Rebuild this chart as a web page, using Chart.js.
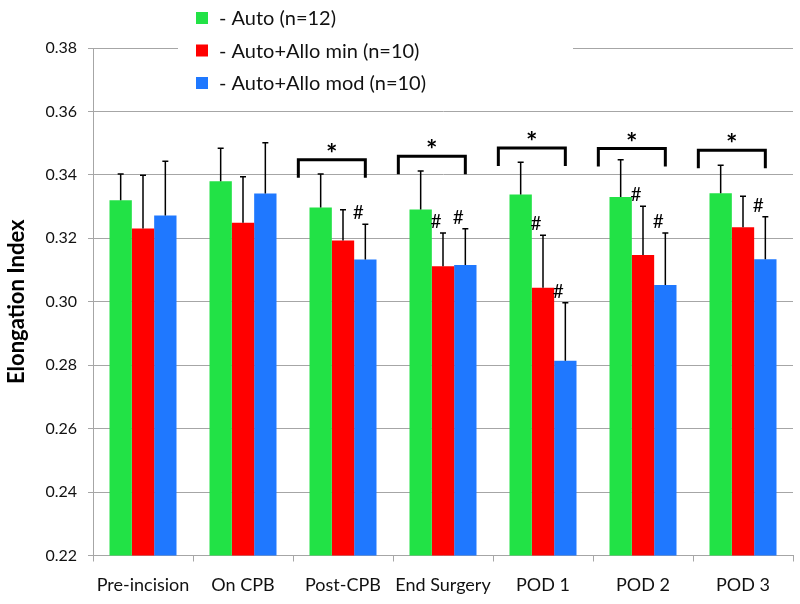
<!DOCTYPE html>
<html>
<head>
<meta charset="utf-8">
<script src="https://cdn.jsdelivr.net/npm/chart.js@4/dist/chart.umd.min.js"></script>
<style>
  html, body { margin: 0; padding: 0; background: #ffffff; }
  #wrap { width: 800px; height: 604px; }
</style>
</head>
<body>
<div id="wrap"><canvas id="c" width="800" height="604"></canvas></div>
<script>
// ---- Data ----
const categories = ['Pre-incision', 'On CPB', 'Post-CPB', 'End Surgery', 'POD 1', 'POD 2', 'POD 3'];
const seriesLabels = ['Auto (n=12)', 'Auto+Allo min (n=10)', 'Auto+Allo mod (n=10)'];
const autoMean    = [0.3320, 0.3380, 0.3297, 0.3291, 0.3338, 0.3330, 0.3342];
const autoSD      = [0.0083, 0.0104, 0.0106, 0.0121, 0.0102, 0.0118, 0.0088];
const alloMinMean = [0.3231, 0.3249, 0.3193, 0.3112, 0.3044, 0.3147, 0.3235];
const alloMinSD   = [0.0168, 0.0145, 0.0097, 0.0105, 0.0166, 0.0154, 0.0098];
const alloModMean = [0.3272, 0.3341, 0.3133, 0.3116, 0.2814, 0.3053, 0.3134];
const alloModSD   = [0.0171, 0.0160, 0.0111, 0.0114, 0.0183, 0.0164, 0.0134];
// Significance markers
const bracketTop  = [null, null, 0.3448, 0.3459, 0.3485, 0.3483, 0.3478]; // "*" brackets (Auto vs Auto+Allo)
const hashMin     = [false, false, false, true, true, true, false];        // "#" over Auto+Allo min
const hashMod     = [false, false, true, true, true, true, true];          // "#" over Auto+Allo mod
const yTicks      = [0.22, 0.24, 0.26, 0.28, 0.30, 0.32, 0.34, 0.36, 0.38];

const colors = ['#22e246', '#ff0000', '#1f78ff'];
const sds = [autoSD, alloMinSD, alloModSD];
const FONT = 'Lato, "Open Sans", sans-serif';
const GRID = '#a6a6a6';

function drawGlyphCentered(ctx, text, x, cy) {
  const m = ctx.measureText(text);
  const asc = m.actualBoundingBoxAscent, desc = m.actualBoundingBoxDescent;
  ctx.textAlign = 'center';
  ctx.textBaseline = 'alphabetic';
  ctx.fillText(text, x, cy + (asc - desc) / 2);
}

const errorBarPlugin = {
  id: 'errorBars',
  afterDatasetsDraw(chart) {
    const ctx = chart.ctx, y = chart.scales.y;
    ctx.save();
    ctx.strokeStyle = '#000';
    ctx.lineWidth = 1.5;
    chart.data.datasets.forEach((ds, di) => {
      const meta = chart.getDatasetMeta(di);
      meta.data.forEach((el, i) => {
        const top = y.getPixelForValue(ds.data[i] + sds[di][i]);
        ctx.beginPath();
        ctx.moveTo(el.x, el.y);
        ctx.lineTo(el.x, top);
        ctx.moveTo(el.x - 3, top);
        ctx.lineTo(el.x + 3, top);
        ctx.stroke();
      });
    });
    // significance brackets and stars
    const m0 = chart.getDatasetMeta(0), m2 = chart.getDatasetMeta(2), m1 = chart.getDatasetMeta(1);
    ctx.lineWidth = 3;
    ctx.fillStyle = '#000';
    bracketTop.forEach((v, i) => {
      if (v === null) return;
      const g = m0.data[i], b = m2.data[i];
      const left = g.x - g.width, right = b.x;
      const py = y.getPixelForValue(v);
      ctx.beginPath();
      ctx.moveTo(left, py + 18);
      ctx.lineTo(left, py);
      ctx.lineTo(right, py);
      ctx.lineTo(right, py + 18);
      ctx.stroke();
      ctx.font = 'bold 27px ' + FONT;
      drawGlyphCentered(ctx, '*', (left + right) / 2, py - 12);
    });
    ctx.font = '19px ' + FONT;
    const hashSets = [[hashMin, m1, 1], [hashMod, m2, 2]];
    hashSets.forEach(([flags, meta, di]) => {
      flags.forEach((f, i) => {
        if (!f) return;
        const el = meta.data[i];
        const top = y.getPixelForValue(chart.data.datasets[di].data[i] + sds[di][i]);
        drawGlyphCentered(ctx, '#', el.x - 7, top - 12);
      });
    });
    ctx.restore();
  }
};

const legendPlugin = {
  id: 'customLegend',
  afterDraw(chart) {
    const ctx = chart.ctx;
    ctx.save();
    ctx.fillStyle = '#fff';
    ctx.fillRect(178, 0, 395, 100);
    ctx.font = '20px ' + FONT;
    chart.data.datasets.forEach((ds, i) => {
      const cy = 18 + i * 32.5;
      ctx.fillStyle = ds.backgroundColor;
      ctx.fillRect(196, cy - 6, 12, 12);
      ctx.fillStyle = '#111';
      ctx.textAlign = 'left';
      ctx.textBaseline = 'middle';
      ctx.fillText('- ' + ds.label, 219, cy + 1);
    });
    ctx.restore();
  }
};

new Chart(document.getElementById('c'), {
  type: 'bar',
  data: {
    labels: categories,
    datasets: [
      { label: seriesLabels[0], data: autoMean, backgroundColor: colors[0] },
      { label: seriesLabels[1], data: alloMinMean, backgroundColor: colors[1] },
      { label: seriesLabels[2], data: alloModMean, backgroundColor: colors[2] }
    ]
  },
  options: {
    responsive: false,
    animation: false,
    devicePixelRatio: 1,
    layout: { padding: { top: 48, right: 7, left: 0, bottom: 0 } },
    datasets: { bar: { categoryPercentage: 0.67, barPercentage: 1.0, borderWidth: 0 } },
    plugins: { legend: { display: false }, tooltip: { enabled: false } },
    scales: {
      x: {
        offset: true,
        grid: { offset: true, drawOnChartArea: false, drawTicks: true, tickLength: 6, color: GRID },
        border: { color: GRID, width: 1 },
        ticks: { font: { family: FONT, size: 18 }, color: '#111', padding: 13, maxRotation: 0, autoSkip: false },
        afterFit(s) { s.height = 48.5; }
      },
      y: {
        min: 0.22, max: 0.38,
        afterBuildTicks(s) { s.ticks = yTicks.map(v => ({ value: v })); },
        grid: { color: GRID, tickLength: 5, drawTicks: true },
        border: { color: GRID, width: 1 },
        ticks: { font: { family: FONT, size: 16 }, color: '#111', padding: 11,
                 callback: v => Number(v).toFixed(2) },
        title: { display: true, text: 'Elongation Index', color: '#000',
                 font: { family: FONT, size: 22, weight: 'bold' }, padding: { top: 4, bottom: 0 } },
        afterFit(s) { s.width = 93; }
      }
    }
  },
  plugins: [errorBarPlugin, legendPlugin]
});
</script>
</body>
</html>
